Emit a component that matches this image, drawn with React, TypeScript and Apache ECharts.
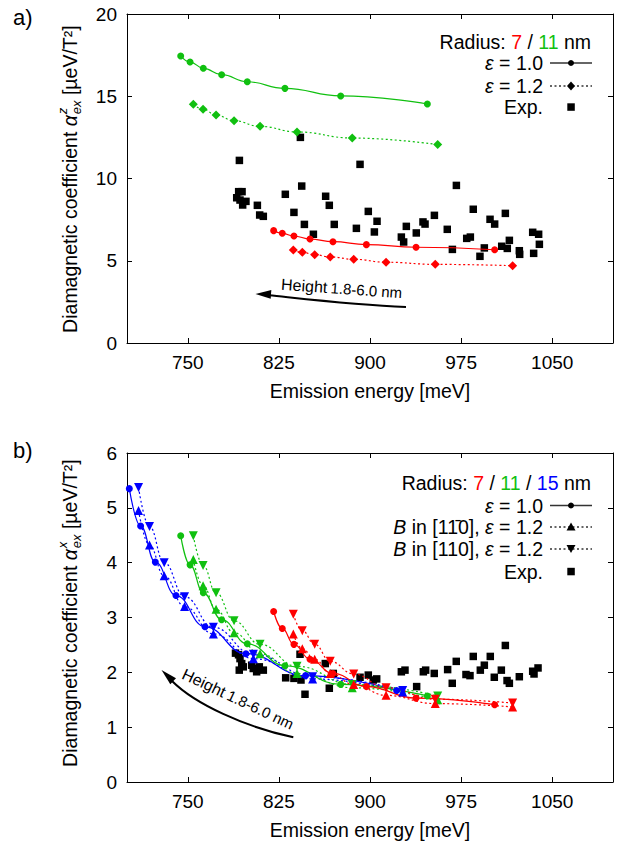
import React, { useEffect, useRef } from "react";
import * as echarts from "echarts";

const FONT = "'Liberation Sans', Arial, Helvetica, sans-serif";
const RED = "#ff0000";
const GREEN = "#10c010";
const BLUE = "#0000ff";

// x tick labels (meV)
const xTicks = [750, 825, 900, 975, 1050];

// model emission energies (meV)
const eR7e10 = [820.7, 827.8, 837.4, 850.6, 869.5, 897.0, 937.9, 1002.6];
const eR7e12 = [836.9, 844.3, 854.5, 867.3, 886.6, 913.2, 953.7, 1017.4];
const eR11e10 = [744.2, 751.9, 762.8, 777.9, 799.0, 830.0, 875.9, 947.2];
const eR11e12 = [754.6, 762.6, 773.3, 788.1, 809.5, 839.9, 885.4, 955.7];
const eR15e10 = [701.9, 711.2, 723.3, 740.3, 764.2, 797.9, 847.0, 921.9];
const eR15e12 = [709.5, 718.5, 730.6, 747.4, 771.1, 804.0, 852.8, 926.9];

// panel a) alpha^z (ueV/T^2)
const azR7e10 = [6.83, 6.67, 6.5, 6.32, 6.16, 5.98, 5.82, 5.67];
const azR7e12 = [5.65, 5.51, 5.37, 5.23, 5.09, 4.91, 4.78, 4.7];
const azR11e10 = [17.45, 17.08, 16.7, 16.31, 15.88, 15.48, 15.02, 14.53];
const azR11e12 = [14.51, 14.21, 13.86, 13.51, 13.17, 12.83, 12.46, 12.06];

// panel b) alpha^x (ueV/T^2)
const axR7e10 = [3.11, 2.8, 2.51, 2.24, 1.98, 1.74, 1.53, 1.41];
const axR7B1m10 = [2.7, 2.43, 2.24, 1.98, 1.78, 1.58, 1.43, 1.37];
const axR7B110 = [3.06, 2.76, 2.51, 2.2, 1.97, 1.72, 1.51, 1.44];
const axR11e10 = [4.49, 3.96, 3.45, 2.96, 2.52, 2.12, 1.78, 1.57];
const axR11B1m10 = [4.06, 3.58, 3.15, 2.72, 2.34, 1.98, 1.72, 1.5];
const axR11B110 = [4.49, 3.95, 3.45, 2.94, 2.51, 2.11, 1.78, 1.57];
const axR15e10 = [5.35, 4.67, 4.01, 3.4, 2.83, 2.34, 1.94, 1.67];
const axR15B1m10 = [4.95, 4.32, 3.76, 3.2, 2.7, 2.25, 1.88, 1.64];
const axR15B110 = [5.37, 4.66, 4.0, 3.38, 2.82, 2.33, 1.92, 1.67];

// experiment, panel a)
const expZE = [792.5, 842.7, 891.8, 971.1, 843.8, 830.3, 791.9, 794.7, 790.3, 793.0, 797.9, 795.2, 807.3, 863.5, 866.5, 809.2, 812.2, 837.4, 846.0, 853.4, 870.6, 898.6, 905.8, 888.8, 903.6, 929.9, 943.6, 945.3, 953.0, 938.1, 925.8, 927.7, 963.6, 985.0, 998.8, 1002.6, 1011.4, 1014.7, 979.6, 982.6, 967.8, 994.1, 990.5, 1008.4, 1013.0, 1022.9, 1023.2, 1033.9, 1038.8, 1039.4, 1034.7];
const expZV = [11.1, 12.5, 10.86, 9.58, 9.54, 9.04, 9.2, 9.2, 8.83, 8.69, 8.61, 8.39, 8.37, 8.92, 8.37, 7.78, 7.7, 7.94, 7.21, 6.61, 7.21, 8.0, 7.4, 6.97, 6.75, 7.09, 7.36, 7.23, 7.76, 6.69, 6.44, 6.14, 6.91, 8.13, 7.52, 7.23, 7.88, 6.24, 6.36, 6.44, 5.69, 5.78, 5.27, 5.88, 5.75, 5.61, 5.39, 6.73, 6.61, 6.0, 5.45];

// experiment, panel b)
const expXE = [789.3, 791.8, 793.0, 794.4, 792.4, 795.7, 802.6, 803.9, 806.7, 808.9, 812.2, 842.4, 830.6, 837.4, 843.2, 846.5, 863.2, 869.8, 866.5, 891.8, 898.6, 902.7, 905.5, 925.8, 928.8, 943.9, 945.8, 952.9, 963.9, 971.0, 967.7, 938.4, 979.0, 982.3, 985.0, 990.8, 994.1, 999.0, 1002.3, 1008.1, 1011.4, 1012.8, 1014.7, 1022.9, 1033.9, 1035.0, 1038.3];
const expXV = [2.35, 2.32, 2.25, 2.16, 2.04, 2.1, 2.13, 2.07, 2.01, 2.1, 2.04, 2.33, 1.9, 1.89, 1.86, 1.6, 2.16, 1.98, 1.71, 1.91, 1.95, 1.86, 1.88, 2.01, 2.04, 2.01, 2.04, 1.98, 2.05, 2.2, 1.8, 1.74, 1.96, 1.94, 2.29, 2.04, 2.13, 2.29, 1.91, 2.04, 2.49, 1.85, 1.8, 1.92, 2.02, 1.97, 2.08];

const zip = (xs: number[], ys: number[]) => xs.map((x, i) => [x, ys[i]]);

function model(xs: number[], ys: number[], color: string, symbol: string, size: number, dotted: boolean, ax: number, rotate = 0) {
  return {
    type: "line",
    xAxisIndex: ax,
    yAxisIndex: ax,
    data: zip(xs, ys),
    symbol,
    symbolSize: size,
    symbolRotate: rotate,
    smooth: 0.45,
    smoothMonotone: "x",
    lineStyle: { color, width: 1.2, type: dotted ? [2, 2.5] : "solid" },
    itemStyle: { color, opacity: 1 },
    z: 3,
    silent: true,
  };
}

function exp(xs: number[], ys: number[], ax: number) {
  return {
    type: "scatter",
    xAxisIndex: ax,
    yAxisIndex: ax,
    data: zip(xs, ys),
    symbol: "rect",
    symbolSize: 7.5,
    itemStyle: { color: "#000", opacity: 1 },
    z: 2,
    silent: true,
  };
}

function xAxis(gridIndex: number, position: string, showLabel: boolean) {
  return {
    type: "value",
    gridIndex,
    position,
    min: 700,
    max: 1100,
    axisLine: { show: true, onZero: false, lineStyle: { color: "#000", width: 1 } },
    axisTick: { show: true, inside: true, length: 5, customValues: xTicks, lineStyle: { color: "#000" } },
    axisLabel: {
      show: showLabel,
      customValues: xTicks,
      formatter: (v: number) => String(v),
      margin: 10,
      color: "#000",
      fontSize: 19,
      fontFamily: FONT,
    },
    splitLine: { show: false },
    name: showLabel ? "Emission energy [meV]" : "",
    nameLocation: "middle",
    nameGap: 38,
    nameTextStyle: { color: "#000", fontSize: 19.5, fontFamily: FONT },
  };
}

function yAxis(gridIndex: number, position: string, showLabel: boolean, max: number, interval: number) {
  return {
    type: "value",
    gridIndex,
    position,
    min: 0,
    max,
    interval,
    axisLine: { show: true, onZero: false, lineStyle: { color: "#000", width: 1 } },
    axisTick: { show: true, inside: true, length: 5, lineStyle: { color: "#000" } },
    axisLabel: {
      show: showLabel,
      showMinLabel: true,
      showMaxLabel: true,
      formatter: (v: number) => String(v),
      margin: 10,
      color: "#000",
      fontSize: 19,
      fontFamily: FONT,
    },
    splitLine: { show: false },
  };
}

const txt = (x: number, y: number, text: string, extra: any = {}) => ({
  type: "text",
  x,
  y,
  silent: true,
  style: {
    text,
    fill: "#000",
    fontSize: 19.5,
    fontFamily: FONT,
    align: "right",
    verticalAlign: "middle",
    ...extra,
  },
});

const richCommon = {
  i: { fontStyle: "italic", fontSize: 19.5, fontFamily: FONT, fill: "#000" },
  r: { fill: RED, fontSize: 19.5, fontFamily: FONT },
  g: { fill: GREEN, fontSize: 19.5, fontFamily: FONT },
  b: { fill: BLUE, fontSize: 19.5, fontFamily: FONT },
};

function yTitle(cx: number, cy: number, sup: string) {
  return {
    type: "group",
    x: cx,
    y: cy,
    rotation: Math.PI / 2,
    silent: true,
    children: [
      {
        type: "text",
        x: 62.9,
        y: 0,
        style: {
          text: "Diamagnetic coefficient {a|α}",
          rich: { a: { fontStyle: "italic", fontSize: 19.5, fontFamily: FONT, fill: "#000" } },
          fill: "#000",
          fontSize: 19.5,
          fontFamily: FONT,
          align: "right",
          verticalAlign: "middle",
        },
      },
      { type: "text", x: 63.8, y: -8, style: { text: sup, fill: "#000", fontSize: 13, fontStyle: "italic", fontFamily: FONT, align: "left", verticalAlign: "middle" } },
      { type: "text", x: 63.8, y: 6, style: { text: "ex", fill: "#000", fontSize: 13, fontStyle: "italic", fontFamily: FONT, align: "left", verticalAlign: "middle" } },
      { type: "text", x: 77.5, y: 0, style: { text: " [µeV/T²]", fill: "#000", fontSize: 19.5, fontFamily: FONT, align: "left", verticalAlign: "middle" } },
    ],
  };
}

const LEG_LINE = "#333";
function legLine(y: number, dotted: boolean) {
  return {
    type: "line",
    silent: true,
    shape: { x1: 550, y1: y, x2: 592, y2: y },
    style: { stroke: LEG_LINE, lineWidth: 1.3, lineDash: dotted ? [2, 2.5] : null },
  };
}

export default function App() {
  const ref = useRef<HTMLDivElement>(null);
  useEffect(() => {
    if (!ref.current) return;
    const chart = echarts.init(ref.current, undefined, { renderer: "svg" });
    const option: any = {
      animation: false,
      backgroundColor: "#fff",
      grid: [
        { left: 127, top: 14, width: 486, height: 329 },
        { left: 127, top: 453, width: 486, height: 329 },
      ],
      xAxis: [xAxis(0, "bottom", true), xAxis(0, "top", false), xAxis(1, "bottom", true), xAxis(1, "top", false)],
      yAxis: [yAxis(0, "left", true, 20, 5), yAxis(0, "right", false, 20, 5), yAxis(1, "left", true, 6, 1), yAxis(1, "right", false, 6, 1)],
      series: [
        exp(expZE, expZV, 0),
        model(eR11e10, azR11e10, GREEN, "circle", 7, false, 0),
        model(eR11e12, azR11e12, GREEN, "diamond", 9, true, 0),
        model(eR7e10, azR7e10, RED, "circle", 7, false, 0),
        model(eR7e12, azR7e12, RED, "diamond", 9, true, 0),

        exp(expXE, expXV, 2),
        model(eR15e10, axR15e10, BLUE, "circle", 7, false, 2),
        model(eR15e12, axR15B1m10, BLUE, "triangle", 9, true, 2),
        model(eR15e12, axR15B110, BLUE, "triangle", 9, true, 2, 180),
        model(eR11e10, axR11e10, GREEN, "circle", 7, false, 2),
        model(eR11e12, axR11B1m10, GREEN, "triangle", 9, true, 2),
        model(eR11e12, axR11B110, GREEN, "triangle", 9, true, 2, 180),
        model(eR7e10, axR7e10, RED, "circle", 7, false, 2),
        model(eR7e12, axR7B1m10, RED, "triangle", 9, true, 2),
        model(eR7e12, axR7B110, RED, "triangle", 9, true, 2, 180),
      ],
      graphic: [
        // panel labels
        txt(13, 17, "a)", { align: "left", fontSize: 22 }),
        txt(13, 450, "b)", { align: "left", fontSize: 22 }),
        // y titles
        yTitle(70, 178, "z"),
        yTitle(70, 612, "x"),
        // legend a)
        txt(591, 42, "Radius: {r|7} / {g|11} nm", { rich: richCommon }),
        txt(543, 63, "{i|ε} = 1.0", { rich: richCommon }),
        legLine(63, false),
        { type: "circle", silent: true, shape: { cx: 571, cy: 63, r: 3 }, style: { fill: "#000" } },
        txt(543, 86, "{i|ε} = 1.2", { rich: richCommon }),
        legLine(86, true),
        { type: "polygon", silent: true, shape: { points: [[571, 81.5], [575, 86], [571, 90.5], [567, 86]] }, style: { fill: "#000" } },
        txt(543, 107, "Exp."),
        { type: "rect", silent: true, shape: { x: 567.3, y: 103.3, width: 7.5, height: 7.5 }, style: { fill: "#000" } },
        // legend b)
        txt(591, 483, "Radius: {r|7} / {g|11} / {b|15} nm", { rich: richCommon }),
        txt(543, 505.5, "{i|ε} = 1.0", { rich: richCommon }),
        legLine(505.5, false),
        { type: "circle", silent: true, shape: { cx: 571, cy: 505.5, r: 3 }, style: { fill: "#000" } },
        txt(543, 527, "{i|B} in [11\u03040], {i|ε} = 1.2", { rich: richCommon }),
        legLine(527, true),
        { type: "polygon", silent: true, shape: { points: [[571, 522.5], [575.5, 530.5], [566.5, 530.5]] }, style: { fill: "#000" } },
        txt(543, 549, "{i|B} in [110], {i|ε} = 1.2", { rich: richCommon }),
        legLine(549, true),
        { type: "polygon", silent: true, shape: { points: [[566.5, 545], [575.5, 545], [571, 553]] }, style: { fill: "#000" } },
        txt(543, 571.5, "Exp."),
        { type: "rect", silent: true, shape: { x: 567.3, y: 567.8, width: 7.5, height: 7.5 }, style: { fill: "#000" } },
        // arrow a)
        {
          type: "bezierCurve",
          silent: true,
          shape: { x1: 406, y1: 307, cpx1: 355, cpy1: 305, cpx2: 305, cpy2: 299, x2: 269, y2: 295.3 },
          style: { stroke: "#000", lineWidth: 2, fill: null },
        },
        { type: "polygon", silent: true, shape: { points: [[255.5, 294], [271.3, 290], [270.7, 298.8]] }, style: { fill: "#000" } },
        {
          type: "text",
          x: 341.7,
          y: 288.5,
          rotation: -0.07,
          silent: true,
          style: {
            text: "{h|Height} {s|1.8-6.0 nm}",
            rich: { h: { fontSize: 16, fontFamily: FONT, fill: "#000" }, s: { fontSize: 15, fontFamily: FONT, fill: "#000" } },
            align: "center",
            verticalAlign: "middle",
            fill: "#000",
          },
        },
        // arrow b)
        {
          type: "bezierCurve",
          silent: true,
          shape: { x1: 293.3, y1: 737.3, cpx1: 245, cpy1: 727, cpx2: 195, cpy2: 704, x2: 172, y2: 681 },
          style: { stroke: "#000", lineWidth: 2, fill: null },
        },
        { type: "polygon", silent: true, shape: { points: [[161.5, 670], [176, 678.3], [170.3, 684.3]] }, style: { fill: "#000" } },
        {
          type: "text",
          x: 238,
          y: 699,
          rotation: -0.44,
          silent: true,
          style: {
            text: "{h|Height} {s|1.8-6.0 nm}",
            rich: { h: { fontSize: 16, fontFamily: FONT, fill: "#000" }, s: { fontSize: 15, fontFamily: FONT, fill: "#000" } },
            align: "center",
            verticalAlign: "middle",
            fill: "#000",
          },
        },
      ],
    };
    chart.setOption(option);
    return () => chart.dispose();
  }, []);
  return <div ref={ref} style={{ position: "fixed", left: 0, top: 0, width: 627, height: 848, background: "#fff" }} />;
}
